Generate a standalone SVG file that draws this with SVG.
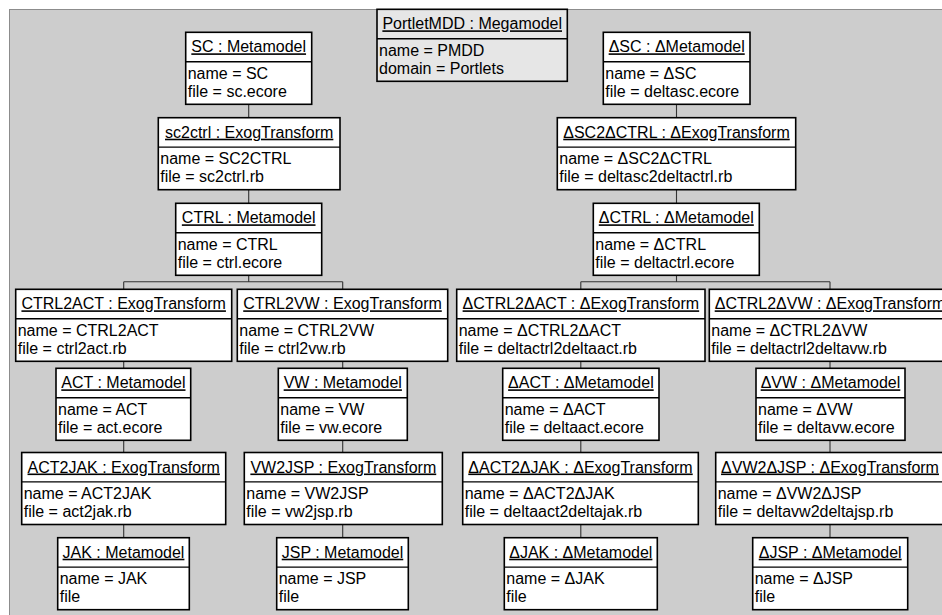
<svg xmlns="http://www.w3.org/2000/svg" width="942" height="615" viewBox="0 0 942 615">
  <style>
    .panel { fill: #cdcdcd; stroke: #8c8c8c; stroke-width: 1; }
    .box { fill: #ffffff; stroke: #000000; stroke-width: 1.6; }
    .mega { fill: #e6e6e6; stroke: #000000; stroke-width: 1.6; }
    .div { stroke: #000000; stroke-width: 1.4; }
    .hd { font-family: "Liberation Sans", Arial, sans-serif; font-size: 16px; text-anchor: middle; text-decoration: underline; fill: #000; }
    .at { font-family: "Liberation Sans", Arial, sans-serif; font-size: 16px; fill: #000; }
    .conn { fill: none; stroke: #333333; stroke-width: 1.1; }
  </style>

  <!-- background panel -->
  <rect class="panel" x="9.5" y="9.5" width="940" height="610"/>

  <!-- tree connectors -->
  <g id="connectors">
    <path class="conn" d="M248.7,104.3 V117.7 M248.7,189.7 V203.3 M248.7,275.3 V281.7 M123.7,281.7 H342.7 M123.7,281.7 V289.3 M342.7,281.7 V289.3"/>
    <path class="conn" d="M123.7,361.3 V368.3 M123.7,440.3 V452.5 M123.7,524.5 V537.7"/>
    <path class="conn" d="M342.7,361.3 V368.3 M342.7,440.3 V452.5 M342.7,524.5 V537.7"/>
    <path class="conn" d="M676.5,104.3 V117.7 M676.5,189.7 V203.3 M676.5,275.3 V281.7 M580.8,281.7 H830 M580.8,281.7 V289.3 M830,281.7 V289.3"/>
    <path class="conn" d="M580.8,361.3 V368.3 M580.8,440.3 V452.5 M580.8,524.5 V537.7"/>
    <path class="conn" d="M830,361.3 V368.3 M830,440.3 V452.5 M830,524.5 V537.7"/>
  </g>

  <!-- megamodel -->
  <g id="PortletMDD">
    <rect class="mega" x="377" y="9.3" width="190.3" height="72"/>
    <line class="div" x1="377" y1="38.7" x2="567.3" y2="38.7"/>
    <text class="hd" x="472.2" y="29.3">PortletMDD : Megamodel</text>
    <text class="at" x="379" y="55.5">name = PMDD</text>
    <text class="at" x="379" y="73.9">domain = Portlets</text>
  </g>

  <!-- left chain -->
  <g id="SC">
    <rect class="box" x="185.7" y="32.3" width="126" height="72"/>
    <line class="div" x1="185.7" y1="61.7" x2="311.7" y2="61.7"/>
    <text class="hd" x="248.7" y="52.3">SC : Metamodel</text>
    <text class="at" x="187.7" y="78.5">name = SC</text>
    <text class="at" x="187.7" y="96.9">file = sc.ecore</text>
  </g>
  <g id="sc2ctrl">
    <rect class="box" x="158.3" y="117.7" width="181.7" height="72"/>
    <line class="div" x1="158.3" y1="147.1" x2="340" y2="147.1"/>
    <text class="hd" x="249.2" y="137.7">sc2ctrl : ExogTransform</text>
    <text class="at" x="160.3" y="163.9">name = SC2CTRL</text>
    <text class="at" x="160.3" y="182.3">file = sc2ctrl.rb</text>
  </g>
  <g id="CTRL">
    <rect class="box" x="175.7" y="203.3" width="146" height="72"/>
    <line class="div" x1="175.7" y1="232.7" x2="321.7" y2="232.7"/>
    <text class="hd" x="248.7" y="223.3">CTRL : Metamodel</text>
    <text class="at" x="177.7" y="249.5">name = CTRL</text>
    <text class="at" x="177.7" y="267.9">file = ctrl.ecore</text>
  </g>
  <g id="CTRL2ACT">
    <rect class="box" x="15.7" y="289.3" width="216" height="72"/>
    <line class="div" x1="15.7" y1="318.7" x2="231.7" y2="318.7"/>
    <text class="hd" x="123.7" y="309.3">CTRL2ACT : ExogTransform</text>
    <text class="at" x="17.7" y="335.5">name = CTRL2ACT</text>
    <text class="at" x="17.7" y="353.9">file = ctrl2act.rb</text>
  </g>
  <g id="CTRL2VW">
    <rect class="box" x="237.3" y="289.3" width="210.4" height="72"/>
    <line class="div" x1="237.3" y1="318.7" x2="447.7" y2="318.7"/>
    <text class="hd" x="342.5" y="309.3">CTRL2VW : ExogTransform</text>
    <text class="at" x="239.3" y="335.5">name = CTRL2VW</text>
    <text class="at" x="239.3" y="353.9">file = ctrl2vw.rb</text>
  </g>
  <g id="ACT">
    <rect class="box" x="56" y="368.3" width="134.7" height="72"/>
    <line class="div" x1="56" y1="397.7" x2="190.7" y2="397.7"/>
    <text class="hd" x="123.4" y="388.3">ACT : Metamodel</text>
    <text class="at" x="58" y="414.5">name = ACT</text>
    <text class="at" x="58" y="432.9">file = act.ecore</text>
  </g>
  <g id="VW">
    <rect class="box" x="278.3" y="368.3" width="129" height="72"/>
    <line class="div" x1="278.3" y1="397.7" x2="407.3" y2="397.7"/>
    <text class="hd" x="342.8" y="388.3">VW : Metamodel</text>
    <text class="at" x="280.3" y="414.5">name = VW</text>
    <text class="at" x="280.3" y="432.9">file = vw.ecore</text>
  </g>
  <g id="ACT2JAK">
    <rect class="box" x="21.7" y="452.5" width="204" height="72"/>
    <line class="div" x1="21.7" y1="481.9" x2="225.7" y2="481.9"/>
    <text class="hd" x="123.7" y="472.5">ACT2JAK : ExogTransform</text>
    <text class="at" x="23.7" y="498.7">name = ACT2JAK</text>
    <text class="at" x="23.7" y="517.1">file = act2jak.rb</text>
  </g>
  <g id="VW2JSP">
    <rect class="box" x="244.3" y="452.5" width="198" height="72"/>
    <line class="div" x1="244.3" y1="481.9" x2="442.3" y2="481.9"/>
    <text class="hd" x="343.3" y="472.5">VW2JSP : ExogTransform</text>
    <text class="at" x="246.3" y="498.7">name = VW2JSP</text>
    <text class="at" x="246.3" y="517.1">file = vw2jsp.rb</text>
  </g>
  <g id="JAK">
    <rect class="box" x="57.7" y="537.7" width="131.6" height="72"/>
    <line class="div" x1="57.7" y1="567.1" x2="189.3" y2="567.1"/>
    <text class="hd" x="123.5" y="557.7">JAK : Metamodel</text>
    <text class="at" x="59.7" y="583.9">name = JAK</text>
    <text class="at" x="59.7" y="602.3">file</text>
  </g>
  <g id="JSP">
    <rect class="box" x="276.7" y="537.7" width="131.6" height="72"/>
    <line class="div" x1="276.7" y1="567.1" x2="408.3" y2="567.1"/>
    <text class="hd" x="342.5" y="557.7">JSP : Metamodel</text>
    <text class="at" x="278.7" y="583.9">name = JSP</text>
    <text class="at" x="278.7" y="602.3">file</text>
  </g>

  <!-- delta chain -->
  <g id="dSC">
    <rect class="box" x="603.3" y="32.3" width="146.7" height="72"/>
    <line class="div" x1="603.3" y1="61.7" x2="750" y2="61.7"/>
    <text class="hd" x="676.7" y="52.3">ΔSC : ΔMetamodel</text>
    <text class="at" x="605.3" y="78.5">name = ΔSC</text>
    <text class="at" x="605.3" y="96.9">file = deltasc.ecore</text>
  </g>
  <g id="dSC2dCTRL">
    <rect class="box" x="557.3" y="117.7" width="238.4" height="72"/>
    <line class="div" x1="557.3" y1="147.1" x2="795.7" y2="147.1"/>
    <text class="hd" x="676.5" y="137.7">ΔSC2ΔCTRL : ΔExogTransform</text>
    <text class="at" x="559.3" y="163.9">name = ΔSC2ΔCTRL</text>
    <text class="at" x="559.3" y="182.3">file = deltasc2deltactrl.rb</text>
  </g>
  <g id="dCTRL">
    <rect class="box" x="593.3" y="203.3" width="166" height="72"/>
    <line class="div" x1="593.3" y1="232.7" x2="759.3" y2="232.7"/>
    <text class="hd" x="676.3" y="223.3">ΔCTRL : ΔMetamodel</text>
    <text class="at" x="595.3" y="249.5">name = ΔCTRL</text>
    <text class="at" x="595.3" y="267.9">file = deltactrl.ecore</text>
  </g>
  <g id="dCTRL2dACT">
    <rect class="box" x="456.7" y="289.3" width="248.3" height="72"/>
    <line class="div" x1="456.7" y1="318.7" x2="705" y2="318.7"/>
    <text class="hd" x="580.9" y="309.3">ΔCTRL2ΔACT : ΔExogTransform</text>
    <text class="at" x="458.7" y="335.5">name = ΔCTRL2ΔACT</text>
    <text class="at" x="458.7" y="353.9">file = deltactrl2deltaact.rb</text>
  </g>
  <g id="dCTRL2dVW">
    <rect class="box" x="709.3" y="289.3" width="241.4" height="72"/>
    <line class="div" x1="709.3" y1="318.7" x2="950.7" y2="318.7"/>
    <text class="hd" x="830" y="309.3">ΔCTRL2ΔVW : ΔExogTransform</text>
    <text class="at" x="711.3" y="335.5">name = ΔCTRL2ΔVW</text>
    <text class="at" x="711.3" y="353.9">file = deltactrl2deltavw.rb</text>
  </g>
  <g id="dACT">
    <rect class="box" x="502.7" y="368.3" width="156.3" height="72"/>
    <line class="div" x1="502.7" y1="397.7" x2="659" y2="397.7"/>
    <text class="hd" x="580.9" y="388.3">ΔACT : ΔMetamodel</text>
    <text class="at" x="504.7" y="414.5">name = ΔACT</text>
    <text class="at" x="504.7" y="432.9">file = deltaact.ecore</text>
  </g>
  <g id="dVW">
    <rect class="box" x="756" y="368.3" width="149" height="72"/>
    <line class="div" x1="756" y1="397.7" x2="905" y2="397.7"/>
    <text class="hd" x="830.5" y="388.3">ΔVW : ΔMetamodel</text>
    <text class="at" x="758" y="414.5">name = ΔVW</text>
    <text class="at" x="758" y="432.9">file = deltavw.ecore</text>
  </g>
  <g id="dACT2dJAK">
    <rect class="box" x="462.7" y="452.5" width="235.6" height="72"/>
    <line class="div" x1="462.7" y1="481.9" x2="698.3" y2="481.9"/>
    <text class="hd" x="580.5" y="472.5">ΔACT2ΔJAK : ΔExogTransform</text>
    <text class="at" x="464.7" y="498.7">name = ΔACT2ΔJAK</text>
    <text class="at" x="464.7" y="517.1">file = deltaact2deltajak.rb</text>
  </g>
  <g id="dVW2dJSP">
    <rect class="box" x="715.7" y="452.5" width="228.6" height="72"/>
    <line class="div" x1="715.7" y1="481.9" x2="944.3" y2="481.9"/>
    <text class="hd" x="830" y="472.5">ΔVW2ΔJSP : ΔExogTransform</text>
    <text class="at" x="717.7" y="498.7">name = ΔVW2ΔJSP</text>
    <text class="at" x="717.7" y="517.1">file = deltavw2deltajsp.rb</text>
  </g>
  <g id="dJAK">
    <rect class="box" x="504.3" y="537.7" width="153" height="72"/>
    <line class="div" x1="504.3" y1="567.1" x2="657.3" y2="567.1"/>
    <text class="hd" x="580.8" y="557.7">ΔJAK : ΔMetamodel</text>
    <text class="at" x="506.3" y="583.9">name = ΔJAK</text>
    <text class="at" x="506.3" y="602.3">file</text>
  </g>
  <g id="dJSP">
    <rect class="box" x="752.7" y="537.7" width="155" height="72"/>
    <line class="div" x1="752.7" y1="567.1" x2="907.7" y2="567.1"/>
    <text class="hd" x="830.2" y="557.7">ΔJSP : ΔMetamodel</text>
    <text class="at" x="754.7" y="583.9">name = ΔJSP</text>
    <text class="at" x="754.7" y="602.3">file</text>
  </g>
</svg>
